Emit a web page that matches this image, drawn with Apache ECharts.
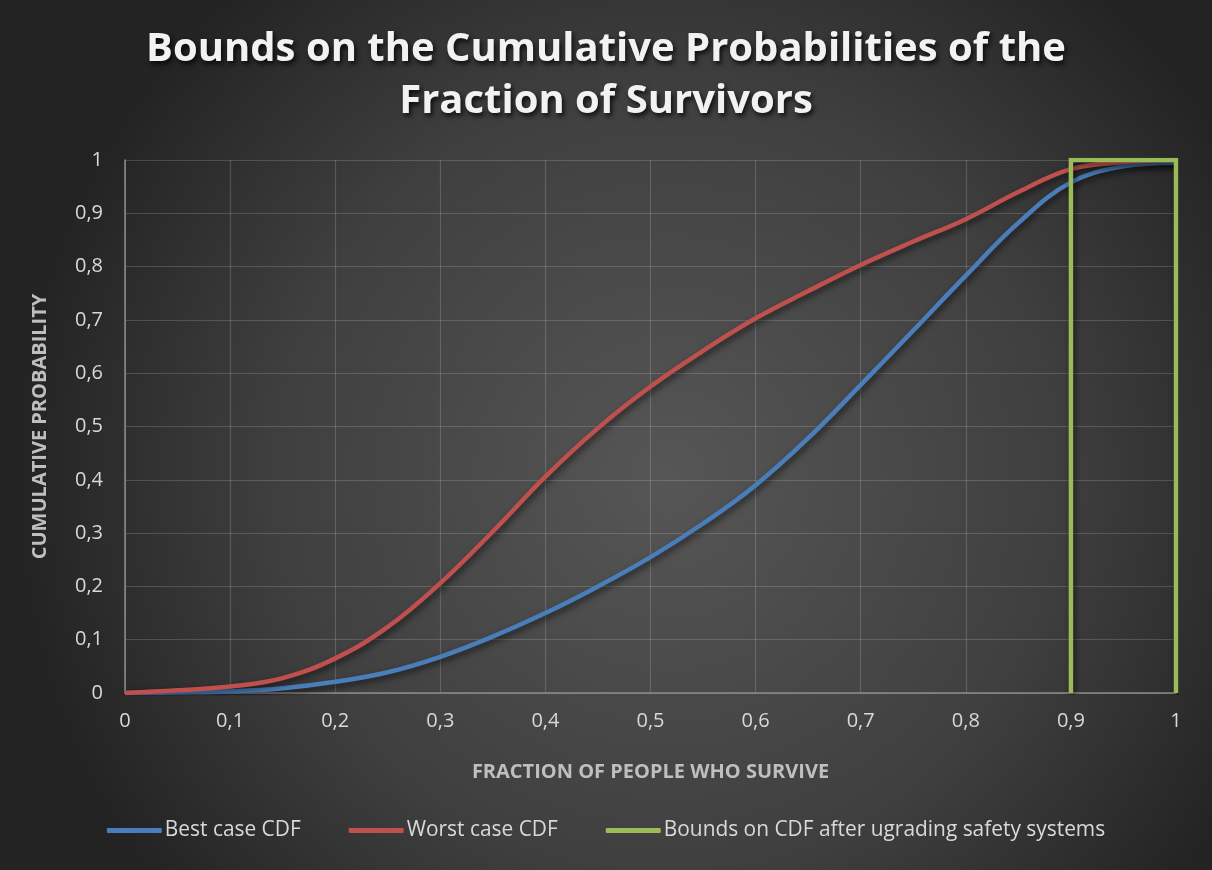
<!DOCTYPE html>
<html>
<head>
<meta charset="utf-8">
<script src="https://cdn.jsdelivr.net/npm/echarts@6/dist/echarts.min.js"></script>
<style>html,body{margin:0;padding:0;background:#333;}#chart{width:1212px;height:870px;}</style>
</head>
<body>
<div id="chart"></div>
<script>
const titleText = 'Bounds on the Cumulative Probabilities of the\nFraction of Survivors';
const xAxisName = 'FRACTION OF PEOPLE WHO SURVIVE';
const yAxisName = 'CUMULATIVE PROBABILITY';
const seriesNames = ['Best case CDF', 'Worst case CDF', 'Bounds on CDF after ugrading safety systems'];
const fractions = [0,0.05,0.1,0.15,0.2,0.25,0.3,0.35,0.4,0.45,0.5,0.55,0.6,0.65,0.7,0.75,0.8,0.85,0.9,0.95,1];
const bestCase = [0,0.001,0.003,0.009,0.021,0.039,0.068,0.106,0.150,0.200,0.255,0.318,0.390,0.478,0.578,0.680,0.783,0.882,0.958,0.988,0.995];
const worstCase = [0,0.005,0.012,0.028,0.065,0.124,0.206,0.303,0.406,0.497,0.575,0.642,0.703,0.754,0.803,0.847,0.889,0.940,0.983,0.996,1.0];
const boundsX = [0.9,0.9,1,1];
const boundsY = [0,1,1,0];

const zip = (xs, ys) => xs.map((x, i) => [x, ys[i]]);
const fmt = v => String(Math.round(v * 10) / 10).replace('.', ',');
const lineShadow = {shadowColor:'rgba(0,0,0,0.6)', shadowBlur:6, shadowOffsetX:2, shadowOffsetY:3};
const FONT = '"Open Sans", "Noto Sans", sans-serif';

const chart = echarts.init(document.getElementById('chart'), null, {renderer:'canvas'});
chart.setOption({
  backgroundColor: {
    type:'radial', x:0.55, y:0.55, r:0.75,
    colorStops:[{offset:0,color:'#565656'},{offset:0.6,color:'#3f3f3f'},{offset:1,color:'#232323'}]
  },
  animation:false,
  textStyle:{fontFamily:FONT},
  title:{
    text:titleText, left:'center', top:19,
    textStyle:{fontFamily:FONT, fontSize:40, fontWeight:'bold', color:'#f2f2f2', lineHeight:52,
      textShadowColor:'rgba(0,0,0,0.8)', textShadowBlur:5, textShadowOffsetX:2, textShadowOffsetY:3}
  },
  legend:{
    bottom:24, left:'center', itemWidth:55, itemHeight:5, itemGap:48,
    icon:'roundRect',
    textStyle:{color:'#d9d9d9', fontSize:20.9, fontFamily:FONT, padding:[0,0,0,-2]},
    data:seriesNames
  },
  grid:{left:125, right:36, top:160, bottom:177, containLabel:false},
  xAxis:{
    type:'value', min:0, max:1, interval:0.1,
    name:xAxisName, nameLocation:'middle', nameGap:69,
    nameTextStyle:{color:'#bfbfbf', fontSize:20, fontWeight:'bold', fontFamily:FONT},
    axisLine:{show:true, lineStyle:{color:'#8c8c8c', width:1.5}},
    axisTick:{show:false},
    axisLabel:{color:'#d9d9d9', fontSize:20, margin:18, formatter:fmt},
    splitLine:{show:true, lineStyle:{color:'rgba(255,255,255,0.16)', width:1.2}}
  },
  yAxis:{
    type:'value', min:0, max:1, interval:0.1,
    name:yAxisName, nameLocation:'middle', nameGap:75, nameRotate:90,
    nameTextStyle:{color:'#bfbfbf', fontSize:20, fontWeight:'bold', fontFamily:FONT},
    axisLine:{show:true, lineStyle:{color:'#8c8c8c', width:1.5}},
    axisTick:{show:false},
    axisLabel:{color:'#d9d9d9', fontSize:20, margin:22, formatter:fmt},
    splitLine:{show:true, lineStyle:{color:'rgba(255,255,255,0.16)', width:1.2}}
  },
  series:[
    {name:seriesNames[0], type:'line', data:zip(fractions,bestCase), smooth:0.4, showSymbol:false,
     color:'#4a7ebb', lineStyle:Object.assign({width:4.5, color:'#4a7ebb'}, lineShadow), z:3},
    {name:seriesNames[1], type:'line', data:zip(fractions,worstCase), smooth:0.4, showSymbol:false,
     color:'#c0504d', lineStyle:Object.assign({width:4.5, color:'#c0504d'}, lineShadow), z:4},
    {name:seriesNames[2], type:'line', data:zip(boundsX,boundsY), smooth:false, showSymbol:false,
     color:'#9bbb59', lineStyle:Object.assign({width:4.5, color:'#9bbb59', join:'miter'}, lineShadow), z:5}
  ]
});
</script>
</body>
</html>
